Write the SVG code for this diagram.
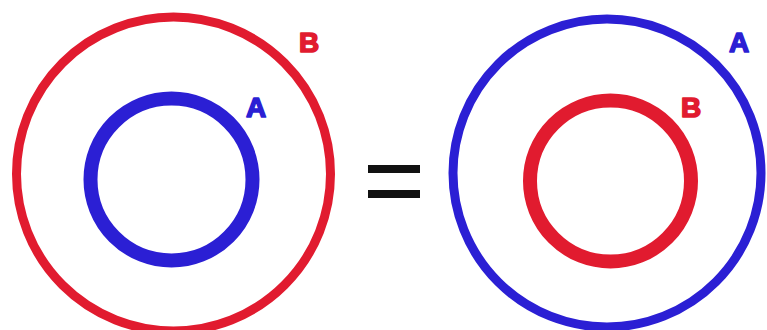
<svg xmlns="http://www.w3.org/2000/svg" width="767" height="330" viewBox="0 0 767 330">
<style>
.red{fill:none;stroke:#e11b2f}
.blue{fill:none;stroke:#2b1fd4}
.outer{stroke-width:9}
.inner{stroke-width:14}
.lbl{font-family:"Liberation Sans",Arial,sans-serif;font-weight:bold;font-size:28px;stroke-width:1.6;stroke-linejoin:round}
.lr{fill:#e11b2f;stroke:#e11b2f}
.lb{fill:#2b1fd4;stroke:#2b1fd4}
</style>
<rect width="767" height="330" fill="#ffffff"/>
<g id="left-B">
<circle class="red outer" cx="173.5" cy="174" r="157"/>
<text class="lbl lr" x="299" y="52" textLength="24">B</text>
</g>
<g id="left-A">
<circle class="blue inner" cx="171.5" cy="179.5" r="81"/>
<text class="lbl lb" x="246" y="117" textLength="26">A</text>
</g>
<g id="equals">
<rect x="368" y="165" width="52" height="8" fill="#111"/>
<rect x="368" y="190" width="52" height="8" fill="#111"/>
</g>
<g id="right-A">
<circle class="blue outer" cx="607" cy="173" r="154"/>
<text class="lbl lb" x="729" y="52" textLength="26">A</text>
</g>
<g id="right-B">
<circle class="red inner" cx="610.5" cy="181" r="80.5"/>
<text class="lbl lr" x="681" y="117" textLength="24">B</text>
</g>
<g id="connectors"/>
</svg>
